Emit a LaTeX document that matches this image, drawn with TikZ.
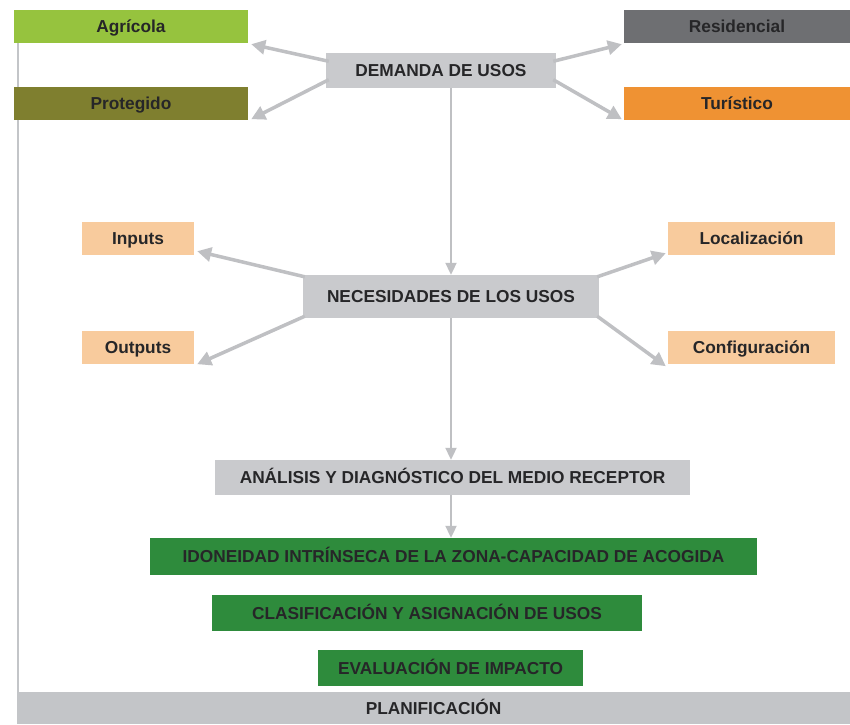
\documentclass[tikz,border=0pt]{standalone}
\usepackage{fontspec}
\setmainfont{Liberation Sans}
\usetikzlibrary{arrows.meta,calc}
\definecolor{agrc}{HTML}{96C33E}
\definecolor{proc}{HTML}{7F7F2F}
\definecolor{resc}{HTML}{6E6F72}
\definecolor{turc}{HTML}{EF9233}
\definecolor{peach}{HTML}{F8CB9D}
\definecolor{graybox}{HTML}{C9CACD}
\definecolor{greenbox}{HTML}{2E8B3C}
\definecolor{arrowc}{HTML}{BFC0C3}
\definecolor{txt}{HTML}{262628}
\definecolor{bandc}{HTML}{C3C5C8}
\tikzset{
  box/.style={rectangle, inner sep=0pt, text=txt, text height=12.3pt, text depth=0pt,
    font=\bfseries\fontsize{17.3}{20}\selectfont},
  conn/.style={draw=arrowc, line width=3.5pt, -{Triangle[length=14pt,width=14pt]}},
  vconn/.style={draw=arrowc, line width=2pt, -{Triangle[length=12pt,width=11pt]}},
}
\begin{document}
\begin{tikzpicture}[x=1pt,y=-1pt]
\useasboundingbox (0,0) rectangle (850,724);
\fill[white] (0,0) rectangle (850,724);
% frame
\node[box, fill=bandc, minimum width=833pt, minimum height=32pt] (plan) at (433.5,708) {PLANIFICACIÓN};
\node[box, fill=agrc, minimum width=234pt, minimum height=33pt] (agr) at (131,26.5) {Agrícola};
\draw[draw=bandc, line width=1.5pt] ($(plan.north west)+(1,0)$) coordinate (fb) -- (fb |- agr.south) coordinate (ft);
% top
\node[box, fill=proc, minimum width=234pt, minimum height=33pt] (pro) at (131,103.5) {Protegido};
\node[box, fill=resc, minimum width=226pt, minimum height=33pt] (res) at (737,26.5) {Residencial};
\node[box, fill=turc, minimum width=226pt, minimum height=33pt] (tur) at (737,103.5) {Turístico};
\node[box, fill=graybox, minimum width=230pt, minimum height=35pt] (dem) at (441,70) {DEMANDA DE USOS};
% middle
\node[box, fill=peach, minimum width=112pt, minimum height=33pt] (inp) at (138,238.5) {Inputs};
\node[box, fill=peach, minimum width=112pt, minimum height=33pt] (out) at (138,347.5) {Outputs};
\node[box, fill=peach, minimum width=167pt, minimum height=33pt] (loc) at (751.5,238.5) {Localización};
\node[box, fill=peach, minimum width=167pt, minimum height=33pt] (conf) at (751.5,347.5) {Configuración};
\node[box, fill=graybox, minimum width=296pt, minimum height=43pt] (nec) at (451,296.5) {NECESIDADES DE LOS USOS};
% bottom
\node[box, fill=graybox, minimum width=475pt, minimum height=35pt] (ana) at (452.5,477.5) {ANÁLISIS Y DIAGNÓSTICO DEL MEDIO RECEPTOR};
\node[box, fill=greenbox, minimum width=607pt, minimum height=37pt] (ido) at (453.5,556.5) {IDONEIDAD INTRÍNSECA DE LA ZONA-CAPACIDAD DE ACOGIDA};
\node[box, fill=greenbox, minimum width=430pt, minimum height=36pt] (cla) at (427,613) {CLASIFICACIÓN Y ASIGNACIÓN DE USOS};
\node[box, fill=greenbox, minimum width=265pt, minimum height=36pt] (eva) at (450.5,668) {EVALUACIÓN DE IMPACTO};
% connectors from DEMANDA
\draw[conn] ($(dem.north west)+(3,9)$) -- ($(agr.south east)+(3,1)$);
\draw[conn] ($(dem.south west)+(3,-8)$) -- ($(pro.south east)+(3,-1)$);
\draw[conn] ($(dem.north east)+(-3,9)$) -- ($(res.south west)+(-2,1)$);
\draw[conn] ($(dem.south east)+(-3,-8)$) -- ($(tur.south west)+(-2,-1)$);
\draw[vconn] (dem.south -| nec.north) -- (nec.north);
% connectors from NECESIDADES
\draw[conn] ($(nec.north west)+(2,2)$) -- ($(inp.south east)+(3,-4)$);
\draw[conn] ($(nec.south west)+(2,-2)$) -- ($(out.south east)+(3,0)$);
\draw[conn] ($(nec.north east)+(-2,2)$) -- ($(loc.south west)+(-2,-2)$);
\draw[conn] ($(nec.south east)+(-2,-2)$) -- ($(conf.south west)+(-2,2)$);
\draw[vconn] (nec.south) -- (nec.south |- ana.north);
\draw[vconn] (nec.south |- ana.south) -- (nec.south |- ido.north);
\end{tikzpicture}
\end{document}
